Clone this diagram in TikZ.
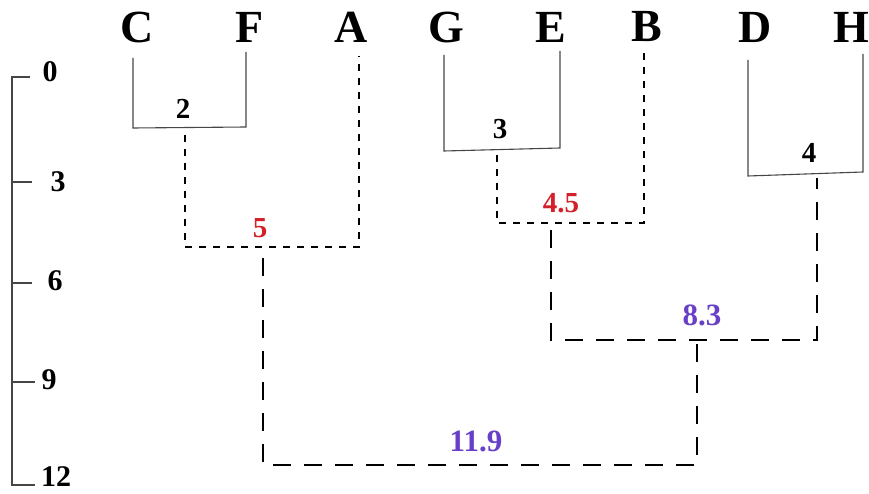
\documentclass[tikz,border=0pt]{standalone}
\usepackage{fontspec}
\setmainfont{Liberation Serif}
\definecolor{lblred}{RGB}{212,32,40}
\definecolor{lblpurple}{RGB}{104,64,200}
\definecolor{solidgray}{RGB}{70,70,70}
\begin{document}
\begin{tikzpicture}[x=1pt,y=-1pt,
  leaf/.style={font=\fontsize{46}{46}\selectfont\bfseries, inner sep=0pt},
  axlbl/.style={font=\fontsize{30}{30}\selectfont\bfseries, inner sep=0pt},
  jlbl/.style={font=\fontsize{29}{29}\selectfont\bfseries, inner sep=0pt},
  biglbl/.style={font=\fontsize{31}{31}\selectfont\bfseries, inner sep=0pt},
  solidlink/.style={draw=solidgray, line width=1.1pt},
  shortdash/.style={draw=black, line width=2pt, dash pattern=on 7pt off 7pt},
  longdash/.style={draw=black, line width=2.6pt, dash pattern=on 18pt off 13pt}]
\useasboundingbox (0,0) rectangle (869,494);
% leaves
\node[leaf] (C) at (137,27) {C};
\node[leaf] (F) at (250,27) {F};
\node[leaf] (A) at (351,27) {A};
\node[leaf] (G) at (446,27) {G};
\node[leaf] (E) at (551,27) {E};
\node[leaf] (B) at (647,27) {B};
\node[leaf] (D) at (755,27) {D};
\node[leaf] (H) at (851,27) {H};
% line tops
\coordinate (Ct) at (133,58);
\coordinate (Ft) at (246,52);
\coordinate (At) at (359,56);
\coordinate (Gt) at (444,55);
\coordinate (Et) at (560,51);
\coordinate (Bt) at (644,53);
\coordinate (Dt) at (748,60);
\coordinate (Ht) at (863,54);
% junctions
\coordinate (CFj) at (133,128);
\coordinate (FCj) at (246,127);
\coordinate (GEj) at (444,151);
\coordinate (EGj) at (560,148);
\coordinate (DHj) at (748,176);
\coordinate (HDj) at (863,172);
\coordinate (cf) at (185,135);
\coordinate (cfa) at (359,247);
\coordinate (ge) at (497,155);
\coordinate (geb) at (644,223);
\coordinate (cfaT) at (263,258);
\coordinate (gebT) at (551,230);
\coordinate (dh) at (817,178);
\coordinate (gebdh) at (817,340);
\coordinate (allT) at (697,344);
\coordinate (all) at (697,465);
% solid clusters
\draw[solidlink] (Ct) -- (CFj) -- (FCj) -- (Ft);
\draw[solidlink] (Gt) -- (GEj) -- (EGj) -- (Et);
\draw[solidlink] (Dt) -- (DHj) -- (HDj) -- (Ht);
% short dashed links
\draw[shortdash] (cf) |- (cfa) -- (At);
\draw[shortdash] (ge) |- (geb) -- (Bt);
% long dashed links
\draw[longdash] (gebT) |- (gebdh) -- (dh);
\draw[longdash] (cfaT) |- (all) -- (allT);
% junction labels
\node[jlbl] (l2) at (183,109) {2};
\node[jlbl] (l3) at (500,129) {3};
\node[jlbl] (l4) at (809,153) {4};
\node[jlbl, text=lblred] (l5) at (260,228) {5};
\node[jlbl, text=lblred] (l45) at (561,203) {4.5};
\node[biglbl, text=lblpurple] (l83) at (702,315) {8.3};
\node[biglbl, text=lblpurple] (l119) at (476,441) {11.9};
% axis
\coordinate (ax0) at (12,77);
\coordinate (ax12) at (12,485);
\draw[solidlink] (30,77) -- (ax0) -- (ax12) -- (35,485);
\draw[solidlink] (12,182) -- (32,182);
\draw[solidlink] (12,283) -- (32,283);
\draw[solidlink] (12,382) -- (35,382);
\node[axlbl] (a0) at (50,72) {0};
\node[axlbl] (a3) at (58,182) {3};
\node[axlbl] (a6) at (55,281) {6};
\node[axlbl] (a9) at (49,380) {9};
\node[axlbl] (a12) at (56,477) {12};
\end{tikzpicture}
\end{document}
